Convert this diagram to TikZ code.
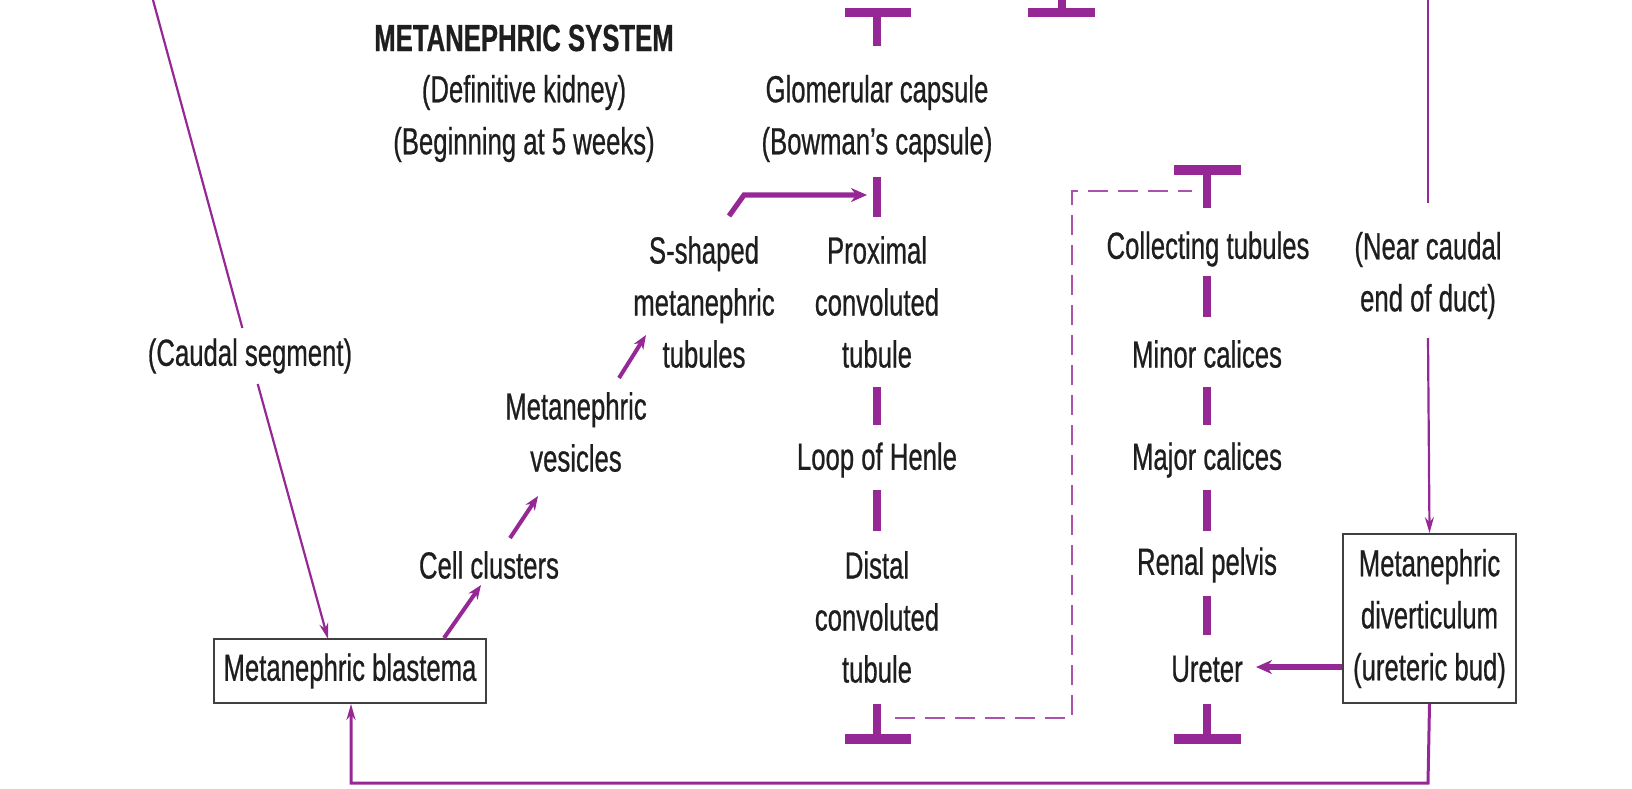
\documentclass[tikz,border=0pt]{standalone}
\usepackage{fontspec}
\setmainfont{Liberation Sans}[FakeStretch=0.68,FakeBold=0.6]
\usetikzlibrary{arrows.meta,calc}
\definecolor{pur}{RGB}{150,40,150}
\definecolor{txt}{RGB}{30,30,30}
\begin{document}
\begin{tikzpicture}[x=0.5pt,y=-0.5pt,
  lbl/.style={text=txt,font=\fontsize{18.9}{26}\selectfont,align=center,inner sep=0pt},
  boxnode/.style={lbl,draw=txt!85,line width=0.9pt},
  thinln/.style={draw=pur,line width=1.1pt},
  thinarr/.style={thinln,-{Stealth[length=8pt,width=4.5pt]}},
  medarr/.style={draw=pur,line width=2pt,-{Stealth[length=7pt,width=5.5pt]}},
  thickarr/.style={draw=pur,line width=2.6pt,-{Stealth[length=8pt,width=7pt]}},
  seg/.style={draw=pur,line width=3.6pt},
  tbar/.style={draw=pur,line width=4.8pt},
  dashln/.style={draw=pur!80,line width=1pt,dash pattern=on 10pt off 5pt}]
\path[use as bounding box] (0,0) rectangle (1632,788);

% titles
\node[lbl,font={\fontsize{18.9}{26}\selectfont\bfseries}] (title) at (524,38) {METANEPHRIC SYSTEM};
\node[lbl] (defk) at (524,118.5) {(Definitive kidney)\\(Beginning at 5 weeks)};

% left chain
\node[lbl,inner sep=5pt] (caudal) at (250,356) {(Caudal segment)};
\node[boxnode,minimum width=136pt,minimum height=32pt] (blast) at (350,671) {Metanephric blastema};
\node[lbl] (cells) at (489,565) {Cell clusters};
\node[lbl] (ves) at (576,432) {Metanephric\\vesicles};
\node[lbl] (sshape) at (704,302) {S-shaped\\metanephric\\tubules};

% nephron column
\node[lbl] (glom) at (877,118.5) {Glomerular capsule\\(Bowman’s capsule)};
\node[lbl] (prox) at (877,302) {Proximal\\convoluted\\tubule};
\node[lbl] (loop) at (877,460) {Loop of Henle};
\node[lbl] (dist) at (877,617) {Distal\\convoluted\\tubule};

% collecting column
\node[lbl] (coll) at (1208,249) {Collecting tubules};
\node[lbl] (minor) at (1207,354) {Minor calices};
\node[lbl] (major) at (1207,460) {Major calices};
\node[lbl] (pelvis) at (1207,565) {Renal pelvis};
\node[lbl] (ureter) at (1207,669) {Ureter};

% right side
\node[lbl] (near) at (1428,275.5) {(Near caudal\\end of duct)};
\node[boxnode,minimum width=86.5pt,minimum height=84.5pt] (divert) at (1429.5,618.5) {Metanephric\\diverticulum\\(ureteric bud)};

% coordinates
\coordinate (ltop) at (153,0);
\coordinate (btip) at (328,639);
\coordinate (a1s) at (444,638);
\coordinate (a1e) at (481,585);
\coordinate (a2s) at (510,538);
\coordinate (a2e) at (538,496);
\coordinate (a3s) at (619,378);
\coordinate (a3e) at (646,335);
\coordinate (s1) at (729,216);
\coordinate (s2) at (744,195);
\coordinate (s3) at (867,195);
\coordinate (rtop) at (1428,0);
\coordinate (bl1) at (1428,783);
\coordinate (bl2) at (351,783);

% left line
\draw[thinln] (ltop) -- (caudal);
\draw[thinarr] (caudal) -- (btip);
\draw[medarr] (a1s) -- (a1e);
\draw[medarr] (a2s) -- (a2e);
\draw[medarr] (a3s) -- (a3e);
\draw[draw=pur,line width=2.6pt,-{Stealth[length=8pt,width=7pt]}] (s1) -- (s2) -- (s3);

% nephron column bars
\draw[tbar] (845,12.5) -- (911,12.5);
\draw[seg] (877,12.5) -- (877,46);
\draw[tbar] (1028,12.5) -- (1095,12.5);
\draw[seg] (1062,0) -- (1062,12.5);
\draw[seg] (glom.south |- 0,177) -- (glom.south |- 0,217);
\draw[seg] (prox.south |- 0,387) -- (prox.south |- 0,425);
\draw[seg] (loop.south |- 0,490) -- (loop.south |- 0,531);
\draw[seg] (dist.south |- 0,704) -- (dist.south |- 0,739);
\draw[tbar] (845,739) -- (911,739);

% collecting column bars
\draw[tbar] (1174,170) -- (1241,170);
\draw[seg] (minor.north |- 0,170) -- (minor.north |- 0,208);
\draw[seg] (minor.north |- 0,276) -- (minor.north |- 0,317);
\draw[seg] (minor.south |- 0,387) -- (minor.south |- 0,425);
\draw[seg] (major.south |- 0,490) -- (major.south |- 0,531);
\draw[seg] (pelvis.south |- 0,596) -- (pelvis.south |- 0,635);
\draw[seg] (ureter.south |- 0,704) -- (ureter.south |- 0,739);
\draw[tbar] (1174,739) -- (1241,739);

% dashed link
\draw[dashln] (895,718) -- (1072,718) -- (1072,190.5) -- (1192,190.5);

% right line
\draw[thinln] (rtop) -- (1428,203);
\draw[thinarr] (1428,338) -- (divert.north);
\draw[thickarr] (divert.west |- 0,667) -- (1256,667);
\draw[draw=pur,line width=1.5pt,-{Stealth[length=8pt,width=4.5pt]}] (divert.south) -- (bl1) -- (bl2) -- (bl2 |- blast.south);
\end{tikzpicture}
\end{document}
